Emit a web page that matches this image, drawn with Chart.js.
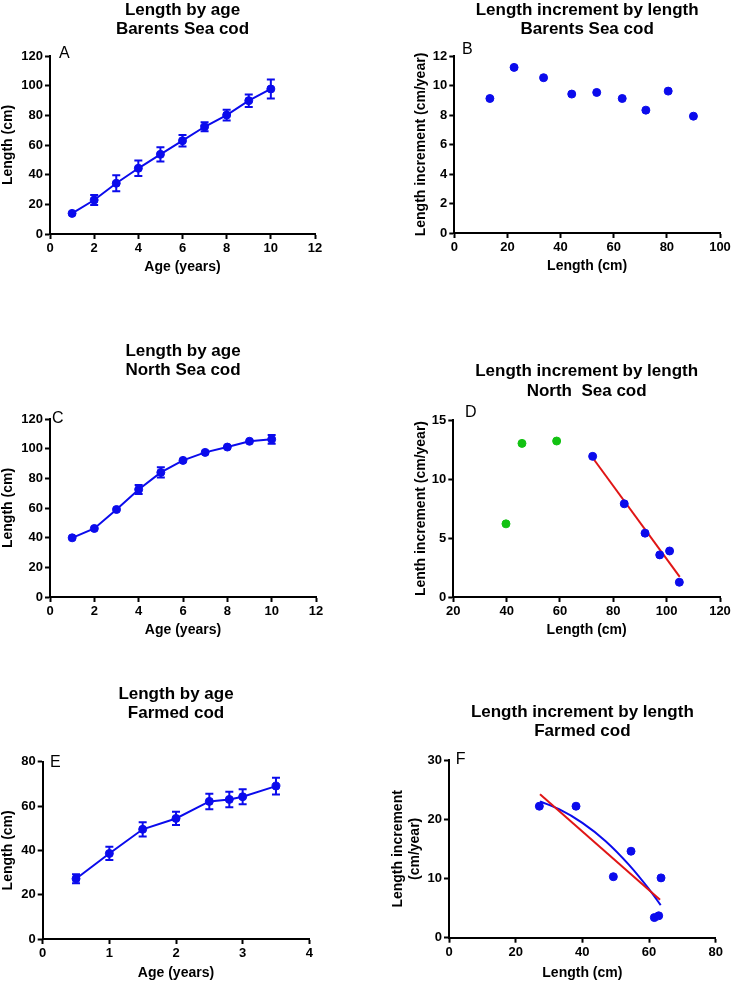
<!DOCTYPE html>
<html><head><meta charset="utf-8">
<script src="https://cdn.jsdelivr.net/npm/chart.js@4.4.1/dist/chart.umd.min.js"></script>
<style>
html,body{margin:0;padding:0;background:#fff;width:733px;height:984px;overflow:hidden;}
canvas{position:absolute;}
</style></head><body>
<canvas id="cA"></canvas><canvas id="cB"></canvas><canvas id="cC"></canvas>
<canvas id="cD"></canvas><canvas id="cE"></canvas><canvas id="cF"></canvas>
<script>
// ---------- DATA ----------
// A: Length by age, Barents Sea cod
const ageA = [1, 2, 3, 4, 5, 6, 7, 8, 9, 10];
const lengthA = [13.9, 22.9, 34.2, 44.3, 53.7, 62.9, 72.3, 80.2, 89.9, 97.8];
const errorA = [0, 3.4, 5.4, 5.2, 4.8, 3.9, 3, 3.6, 4.2, 6.4];
// B: Length increment by length, Barents Sea cod
const lengthB = [13.4, 22.5, 33.6, 44.2, 53.6, 63.2, 72.1, 80.5, 90.0];
const incrementB = [9.12, 11.23, 10.53, 9.42, 9.53, 9.12, 8.33, 9.62, 7.92];
// C: Length by age, North Sea cod
const ageC = [1, 2, 3, 4, 5, 6, 7, 8, 9, 10];
const lengthC = [39.9, 46.2, 59.0, 72.5, 84.0, 92.1, 97.5, 101.1, 105.0, 106.3];
const errorC = [0, 0, 0, 3, 3.4, 0, 0, 0, 0, 3];
// D: Length increment by length, North Sea cod
const lengthDGreen = [39.75, 45.75, 58.75];
const incrementDGreen = [6.2, 13.02, 13.22];
const lengthDBlue = [72.25, 84.1, 91.9, 97.4, 101.1, 104.75];
const incrementDBlue = [11.92, 7.9, 5.41, 3.57, 3.9, 1.25];
const fitDX = [72.25, 104.9];
const fitDY = [11.8, 1.7];
// E: Length by age, Farmed cod
const ageE = [0.5, 1, 1.5, 2, 2.5, 2.8, 3, 3.5];
const lengthE = [27.2, 38.6, 49.5, 54.4, 62.1, 63.0, 64.2, 69.0];
const errorE = [2, 3, 3.2, 3, 3.5, 3.5, 3.4, 3.8];
// F: Length increment by length, Farmed cod
const lengthF = [27.1, 38.1, 49.3, 54.6, 61.6, 62.9, 63.6];
const incrementF = [22.2, 22.2, 10.3, 14.6, 3.4, 3.7, 10.1];
const linFitFX = [27.3, 63.3];
const linFitFY = [24.2, 6.4];
const curveFitFX = [27.3, 33, 40, 47, 54, 60, 63.5];
const curveFitFY = [23.0, 21.7, 19.4, 16.3, 12.3, 8.2, 5.5];

// tick labels
const ticksAgeAC = [0, 2, 4, 6, 8, 10, 12];
const ticksLengthAC = [0, 20, 40, 60, 80, 100, 120];
const ticksBX = [0, 20, 40, 60, 80, 100];
const ticksBY = [0, 2, 4, 6, 8, 10, 12];
const ticksDX = [20, 40, 60, 80, 100, 120];
const ticksDY = [0, 5, 10, 15];
const ticksEX = [0, 1, 2, 3, 4];
const ticksEY = [0, 20, 40, 60, 80];
const ticksFX = [0, 20, 40, 60, 80];
const ticksFY = [0, 10, 20, 30];

// texts
const titleA = ['Length by age', 'Barents Sea cod'];
const titleB = ['Length increment by length', 'Barents Sea cod'];
const titleC = ['Length by age', 'North Sea cod'];
const titleD = ['Length increment by length', 'North  Sea cod'];
const titleE = ['Length by age', 'Farmed cod'];
const titleF = ['Length increment by length', 'Farmed cod'];

// ---------- STYLE / LAYOUT ----------
const BLUE = '#0b0bec', GREEN = '#12c212', RED = '#e01515';
const FONT = '"Liberation Sans", Arial, Helvetica, sans-serif';

const pts = (xs, ys) => xs.map((x, i) => ({x: x, y: ys[i]}));

const errorBarPlugin = {
  id: 'errorBars',
  afterDatasetsDraw(chart) {
    const ctx = chart.ctx;
    const xs = chart.scales.x, ys = chart.scales.y;
    chart.data.datasets.forEach(ds => {
      if (!ds.errorBars) return;
      ctx.save();
      ctx.strokeStyle = ds.borderColor;
      ctx.lineWidth = 2;
      ds.data.forEach((p, i) => {
        const e = ds.errorBars[i];
        if (!e) return;
        const x = xs.getPixelForValue(p.x);
        const y1 = ys.getPixelForValue(p.y + e);
        const y2 = ys.getPixelForValue(p.y - e);
        ctx.beginPath();
        ctx.moveTo(x, y1); ctx.lineTo(x, y2);
        ctx.moveTo(x - 4, y1); ctx.lineTo(x + 4, y1);
        ctx.moveTo(x - 4, y2); ctx.lineTo(x + 4, y2);
        ctx.stroke();
      });
      ctx.restore();
    });
  }
};

const letterPlugin = {
  id: 'panelLetter',
  afterDraw(chart, args, opts) {
    const {ctx, chartArea} = chart;
    ctx.save();
    ctx.font = '16px ' + FONT;
    ctx.fillStyle = '#000';
    ctx.textBaseline = 'alphabetic';
    ctx.textAlign = 'left';
    ctx.fillText(opts.text, chartArea.left + opts.dx, chartArea.top + opts.dy);
    ctx.restore();
  }
};

function axis(opts) {
  const tickArr = opts.ticks;
  const isX = opts.axis === 'x';
  return {
    type: 'linear',
    position: isX ? 'bottom' : 'left',
    min: opts.min, max: opts.max,
    afterBuildTicks: s => { s.ticks = tickArr.map(v => ({value: v})); },
    afterFit: s => { if (isX) s.height = opts.size; else s.width = opts.size; },
    border: {display: true, color: '#000', width: 2},
    grid: {display: true, drawOnChartArea: false, drawTicks: true, tickLength: 5, tickWidth: 2, tickColor: '#000'},
    ticks: {color: '#000', padding: 2, font: {family: FONT, size: 13, weight: 'bold'}, maxRotation: 0, autoSkip: false},
    title: {display: true, text: opts.title, color: '#000',
            font: {family: FONT, size: 14, weight: 'bold', lineHeight: 1.2},
            padding: opts.titlePad}
  };
}

function makeChart(id, p) {
  const c = document.getElementById(id);
  c.width = p.w; c.height = p.h;
  c.style.left = p.left + 'px'; c.style.top = p.top + 'px';
  c.style.width = p.w + 'px'; c.style.height = p.h + 'px';
  return new Chart(c, {
    type: 'scatter',
    data: {datasets: p.datasets},
    options: {
      responsive: false, animation: false, devicePixelRatio: 1, events: [],
      layout: {padding: {left: 0, top: 0, bottom: 0, right: p.padRight}},
      plugins: {
        legend: {display: false}, tooltip: {enabled: false},
        title: {display: true, text: p.title, fullSize: false, color: '#000',
                font: {family: FONT, size: 17, weight: 'bold', lineHeight: 1.13},
                padding: {top: p.titleTop, bottom: p.titleBottom}},
        panelLetter: {text: p.letter, dx: p.ldx, dy: p.ldy}
      },
      scales: {
        x: axis({axis: 'x', min: p.xMin, max: p.xMax, ticks: p.xTicks, size: p.xH, title: p.xTitle, titlePad: {top: 0, bottom: p.xTitlePad}}),
        y: axis({axis: 'y', min: p.yMin, max: p.yMax, ticks: p.yTicks, size: p.yW, title: p.yTitle, titlePad: {top: p.yTitlePad, bottom: 0}})
      }
    },
    plugins: [errorBarPlugin, letterPlugin]
  });
}

const dotStyle = col => ({backgroundColor: col, borderColor: col, pointRadius: 4, pointBorderWidth: 1, showLine: false});
const lineWithDots = (xs, ys, errs) => ({
  data: pts(xs, ys), errorBars: errs, showLine: true, borderColor: BLUE, backgroundColor: BLUE,
  borderWidth: 2, pointRadius: 4, pointBorderWidth: 1, pointBackgroundColor: BLUE, pointBorderColor: BLUE, tension: 0
});
const fitLine = (xs, ys, col, tension) => ({
  data: pts(xs, ys), showLine: true, borderColor: col, backgroundColor: col, borderWidth: 2,
  pointRadius: 0, tension: tension, cubicInterpolationMode: tension ? 'monotone' : 'default'
});

makeChart('cA', {left: 0, top: 0, w: 333, h: 284, padRight: 18,
  title: titleA, titleTop: 0.5, titleBottom: 17.1, letter: 'A', ldx: 9, ldy: 1.5,
  xMin: 0, xMax: 12, xTicks: ticksAgeAC, xH: 50, xTitle: 'Age (years)', xTitlePad: 8.2,
  yMin: 0, yMax: 120, yTicks: ticksLengthAC, yW: 50, yTitle: 'Length (cm)', yTitlePad: 0,
  datasets: [lineWithDots(ageA, lengthA, errorA)]});

makeChart('cB', {left: 410, top: 0, w: 323, h: 283, padRight: 13,
  title: titleB, titleTop: 0.5, titleBottom: 17.1, letter: 'B', ldx: 7.7, ldy: -2,
  xMin: 0, xMax: 100, xTicks: ticksBX, xH: 50, xTitle: 'Length (cm)', xTitlePad: 8.2,
  yMin: 0, yMax: 12, yTicks: ticksBY, yW: 44.3, yTitle: 'Length increment (cm/year)', yTitlePad: 2.8,
  datasets: [Object.assign({data: pts(lengthB, incrementB)}, dotStyle(BLUE))]});

makeChart('cC', {left: 0, top: 330, w: 334, h: 317, padRight: 18,
  title: titleC, titleTop: 11.9, titleBottom: 38.7, letter: 'C', ldx: 2, ldy: 4,
  xMin: 0, xMax: 12, xTicks: ticksAgeAC, xH: 50, xTitle: 'Age (years)', xTitlePad: 8.2,
  yMin: 0, yMax: 120, yTicks: ticksLengthAC, yW: 50, yTitle: 'Length (cm)', yTitlePad: 0,
  datasets: [lineWithDots(ageC, lengthC, errorC)]});

makeChart('cD', {left: 410, top: 330, w: 323, h: 317, padRight: 13,
  title: titleD, titleTop: 32.2, titleBottom: 19.4, letter: 'D', ldx: 11.7, ldy: -3,
  xMin: 20, xMax: 120, xTicks: ticksDX, xH: 50, xTitle: 'Length (cm)', xTitlePad: 8.2,
  yMin: 0, yMax: 15, yTicks: ticksDY, yW: 43.3, yTitle: 'Lenth increment (cm/year)', yTitlePad: 2.8,
  datasets: [
    Object.assign({data: pts(lengthDBlue, incrementDBlue)}, dotStyle(BLUE)),
    Object.assign({data: pts(lengthDGreen, incrementDGreen)}, dotStyle(GREEN)),
    fitLine(fitDX, fitDY, RED, 0)
  ]});

makeChart('cE', {left: 0, top: 660, w: 325, h: 324, padRight: 15.7,
  title: titleE, titleTop: 24.6, titleBottom: 38.7, letter: 'E', ldx: 7.3, ldy: 5,
  xMin: 0, xMax: 4, xTicks: ticksEX, xH: 45, xTitle: 'Age (years)', xTitlePad: 2.6,
  yMin: 0, yMax: 80, yTicks: ticksEY, yW: 42.7, yTitle: 'Length (cm)', yTitlePad: 0,
  datasets: [lineWithDots(ageE, lengthE, errorE)]});

makeChart('cF', {left: 380, top: 660, w: 353, h: 324, padRight: 17.3,
  title: titleF, titleTop: 42.9, titleBottom: 18.7, letter: 'F', ldx: 6.7, ldy: 4,
  xMin: 0, xMax: 80, xTicks: ticksFX, xH: 46.3, xTitle: 'Length (cm)', xTitlePad: 2.3,
  yMin: 0, yMax: 30, yTicks: ticksFY, yW: 69, yTitle: ['Length increment', '(cm/year)'], yTitlePad: 9.5,
  datasets: [
    fitLine(linFitFX, linFitFY, RED, 0),
    fitLine(curveFitFX, curveFitFY, BLUE, 0.4),
    Object.assign({data: pts(lengthF, incrementF)}, dotStyle(BLUE))
  ]});
</script>
</body></html>
